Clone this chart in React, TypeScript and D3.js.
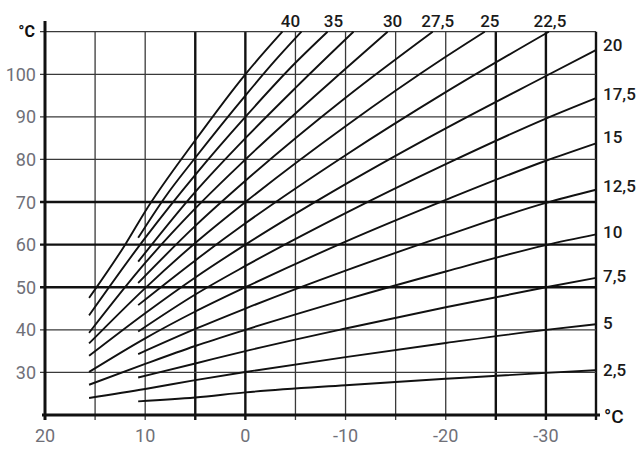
import React from "react";
import * as d3 from "d3";

// Slope labels of the heating curves (low to high)
const slopes = ["2,5", "5", "7,5", "10", "12,5", "15", "17,5", "20", "22,5", "25", "27,5", "30", "32,5", "35", "37,5", "40"];

// Points: [outdoor °C, flow °C]
const curve2_5 = [[10.7, 23.2], [5, 24.1], [0, 25.3], [-10, 27], [-20, 28.5], [-30, 29.9], [-35, 30.5]];
const curve5 = [[15.6, 24.0], [10, 26.1], [5, 28.2], [0, 30.1], [-10, 33.6], [-20, 36.9], [-30, 40], [-35, 41.3]];
const curve7_5 = [[10.7, 28.8], [5, 32.1], [0, 35], [-10, 40.3], [-20, 45.3], [-30, 50], [-35, 52.2]];
const curve10 = [[15.6, 27.1], [10, 32], [5, 36.2], [0, 40], [-10, 47.1], [-20, 53.7], [-30, 59.9], [-35, 62.4]];
const curve12_5 = [[10.7, 34.3], [5, 40.2], [0, 45], [-10, 53.9], [-20, 62.1], [-30, 69.8], [-35, 72.9]];
const curve15 = [[15.6, 30.1], [10, 38], [5, 44.3], [0, 50], [-10, 60.7], [-20, 70.5], [-30, 79.7], [-35, 83.8]];
const curve17_5 = [[10.7, 39.6], [5, 48.3], [0, 55], [-10, 67.4], [-20, 78.9], [-30, 89.6], [-35, 94.4]];
const curve20 = [[15.6, 33.9], [10, 43.9], [5, 52.3], [0, 60], [-10, 74.2], [-20, 87.3], [-30, 99.6], [-35, 105.7]];
const curve22_5 = [[10.7, 45.8], [5, 56.3], [0, 65], [-10, 81], [-20, 95.8], [-30.3, 110]];
const curve25 = [[15.6, 36.8], [10, 49.8], [5, 60.4], [0, 70], [-10, 87.8], [-20, 104.1], [-23.9, 110]];
const curve27_5 = [[10.7, 51], [5, 64.4], [0, 75], [-10, 94.5], [-18.7, 110]];
const curve30 = [[15.6, 39.3], [10, 55.7], [5, 68.5], [0, 80], [-10, 101.3], [-14.2, 110]];
const curve32_5 = [[10.7, 56], [5, 72.4], [0, 85], [-5, 96.8], [-10.8, 110]];
const curve35 = [[15.6, 43.4], [10, 61.6], [5, 76.4], [0, 90], [-5, 102.7], [-8.2, 110]];
const curve37_5 = [[10.7, 61.6], [8, 71.2], [5, 80.4], [0, 95], [-3, 103.3], [-5.6, 110]];
const curve40 = [[15.6, 47.5], [15, 49.5], [12, 60], [10, 67.8], [5, 84.5], [0, 100], [-3.7, 110]];

const curves = [curve2_5, curve5, curve7_5, curve10, curve12_5, curve15, curve17_5, curve20,
  curve22_5, curve25, curve27_5, curve30, curve32_5, curve35, curve37_5, curve40];

// Labels: right side (flow at -35) and top side (outdoor at 110)
const rightLabels = ["20", "17,5", "15", "12,5", "10", "7,5", "5", "2,5"];
const rightLabelValues = [107, 95.5, 85.2, 73.9, 63.1, 52.6, 41.6, 30.5];
const topLabels = ["40", "35", "30", "27,5", "25", "22,5"];
const topLabelValues = [-4.5, -8.8, -14.7, -19.2, -24.4, -30.4];

const xGrid = [15, 10, 5, 0, -5, -10, -15, -20, -25, -30, -35];
const xThick = [5, 0, -25, -30, -35];
const xTickLabels = [20, 10, 0, -10, -20, -30];
const yGrid = [30, 40, 50, 60, 70, 80, 90, 100, 110];
const yThick = [50, 60, 70];
const yTickLabels = [30, 40, 50, 60, 70, 80, 90, 100];

export default function App() {
  const W = 642, H = 451;
  const x = d3.scaleLinear().domain([20, -35]).range([45, 596]);
  const y = d3.scaleLinear().domain([20, 110]).range([415, 31.7]);
  const line = d3.line<number[]>()
    .x((d) => x(d[0]))
    .y((d) => y(d[1]))
    .curve(d3.curveMonotoneX);
  const gray = "#6f7078";
  const font = "Roboto, 'DejaVu Sans', sans-serif";

  return (
    <svg width={W} height={H} style={{ position: "absolute", left: 0, top: 0, background: "#fff" }}
      fontFamily={font}>
      <rect width={W} height={H} fill="#fff" />
      {/* vertical grid */}
      {xGrid.map((v) => {
        const thick = xThick.includes(v);
        return (
          <line key={"vx" + v} x1={x(v)} x2={x(v)} y1={y(110)} y2={y(20) + 5}
            stroke={thick ? "#111" : "#3a3a3a"} strokeWidth={thick ? 2.4 : 1.3} />
        );
      })}
      {/* horizontal grid */}
      {yGrid.map((v) => {
        const thick = yThick.includes(v);
        return (
          <line key={"hy" + v} x1={x(20) - 5} x2={x(-35)} y1={y(v)} y2={y(v)}
            stroke={thick ? "#111" : "#3a3a3a"} strokeWidth={thick ? 2.4 : 1.3} />
        );
      })}
      {/* axes */}
      <line x1={x(20)} x2={x(20)} y1={21} y2={y(20) + 5} stroke="#111" strokeWidth={3} />
      <line x1={x(20) - 3} x2={x(-35) + 4} y1={y(20)} y2={y(20)} stroke="#111" strokeWidth={3} />

      {/* curves */}
      {curves.map((c, i) => (
        <path key={"c" + i} d={line(c as number[][]) || ""} fill="none" stroke="#111" strokeWidth={1.9} />
      ))}

      {/* y labels */}
      {yTickLabels.map((v) => (
        <text key={"yl" + v} x={36} y={y(v)} dy="0.36em" textAnchor="end" fontSize={18} fill={gray}>{v}</text>
      ))}
      <text x={35} y={y(110)} dy="0.36em" textAnchor="end" fontSize={16} fontWeight="bold" fill="#111">°C</text>

      {/* x labels */}
      {xTickLabels.map((v) => (
        <text key={"xl" + v} x={x(v)} y={442} textAnchor="middle" fontSize={18} fill={gray}>{v}</text>
      ))}
      <text x={604} y={y(20)} dy="0.4em" textAnchor="start" fontSize={19} fontWeight="500" fill="#111">°C</text>

      {/* right labels */}
      {rightLabels.map((t, i) => (
        <text key={"rl" + t} x={603} y={y(rightLabelValues[i])} dy="0.36em" fontSize={17} fontWeight="500" fill="#1a1a1a">{t}</text>
      ))}
      {/* top labels */}
      {topLabels.map((t, i) => (
        <text key={"tl" + t} x={x(topLabelValues[i])} y={27} textAnchor="middle" fontSize={17} fontWeight="500" fill="#1a1a1a">{t}</text>
      ))}
    </svg>
  );
}
